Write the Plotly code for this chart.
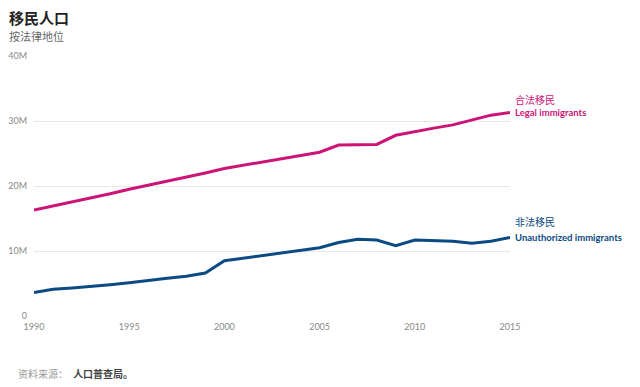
import plotly.graph_objects as go

years = list(range(1990, 2016))
legal = [16.3, 16.9, 17.5, 18.2, 18.8, 19.5, 20.1, 20.8, 21.4, 22.0,
         22.7, 23.2, 23.7, 24.2, 24.7, 25.2, 26.3, 26.3, 26.4, 27.8,
         28.4, 28.9, 29.4, 30.2, 30.9, 31.3]
unauthorized = [3.6, 4.1, 4.3, 4.5, 4.8, 5.1, 5.5, 5.8, 6.1, 6.6,
                8.5, 8.9, 9.3, 9.7, 10.1, 10.5, 11.3, 11.8, 11.7, 10.8,
                11.7, 11.6, 11.5, 11.2, 11.5, 12.1]
y_tickvals = [0, 10, 20, 30, 40]
y_ticktext = ["0", "10M", "20M", "30M", "40M"]
x_tickvals = [1990, 1995, 2000, 2005, 2010, 2015]

PINK = "#cc1477"
BLUE = "#0b4a82"
FONT = "Lato, 'Noto Sans CJK SC', sans-serif"

# page body has an 8px default margin; figure is sized to fill the rest of the window
L, R, T, B = 26, 130, 48, 71
W, H = 632, 379
PW = W - L - R

fig = go.Figure()
fig.add_trace(go.Scatter(x=years, y=legal, mode="lines",
                         line=dict(color=PINK, width=3), hoverinfo="skip"))
fig.add_trace(go.Scatter(x=years, y=unauthorized, mode="lines",
                         line=dict(color=BLUE, width=3), hoverinfo="skip"))

ann = [
    dict(y=legal[-1], text="合法移民", color=PINK, bold=False, ys=13),
    dict(y=legal[-1], text="Legal immigrants", color=PINK, bold=True, ys=0),
    dict(y=unauthorized[-1], text="非法移民", color=BLUE, bold=False, ys=15),
    dict(y=unauthorized[-1], text="Unauthorized immigrants", color=BLUE, bold=True, ys=0),
]
for a in ann:
    fig.add_annotation(xref="paper", yref="y", x=1, y=a["y"],
                       text=("<b>%s</b>" % a["text"]) if a["bold"] else a["text"],
                       showarrow=False, xanchor="left", yanchor="middle",
                       xshift=3, yshift=a["ys"],
                       font=dict(family=FONT, size=9.5 if a["bold"] else 10,
                                 color=a["color"]))

fig.add_annotation(xref="paper", yref="paper", x=-L / PW, y=1, yshift=38,
                   text="<b>移民人口</b>", showarrow=False, xanchor="left",
                   yanchor="middle", xshift=-1,
                   font=dict(family=FONT, size=15, color="#222"))
fig.add_annotation(xref="paper", yref="paper", x=-L / PW, y=1, yshift=20,
                   text="按法律地位", showarrow=False, xanchor="left",
                   yanchor="middle", xshift=-1,
                   font=dict(family=FONT, size=11, color="#666"))
fig.add_annotation(xref="paper", yref="paper", x=-L / PW, y=0, yshift=-58,
                   text="资料来源：  <b><span style='color:#444'>人口普查局。</span></b>",
                   showarrow=False, xanchor="left", yanchor="middle", xshift=8,
                   font=dict(family=FONT, size=10, color="#999"))

fig.update_layout(
    width=W, height=H,
    margin=dict(l=L, r=R, t=T, b=B),
    plot_bgcolor="white", paper_bgcolor="white",
    showlegend=False,
    font=dict(family=FONT, size=9, color="#888"),
    xaxis=dict(range=[1990, 2015], tickvals=x_tickvals, showgrid=False,
               zeroline=False, showline=False, ticks="", automargin=False,
               ticklabelstandoff=4,
               tickfont=dict(size=9, color="#888")),
    yaxis=dict(range=[0, 40], tickvals=y_tickvals, ticktext=y_ticktext,
               showgrid=True, gridcolor="#e8e8e8", gridwidth=1,
               zeroline=False, showline=False, ticks="", automargin=False,
               ticklabelstandoff=6,
               tickfont=dict(size=9, color="#888")),
)

fig.write_html("out.html")
